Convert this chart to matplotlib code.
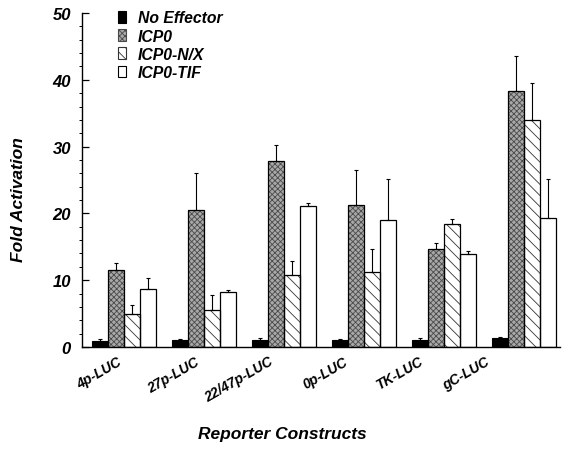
import numpy as np
import matplotlib
matplotlib.use("Agg")
import matplotlib.pyplot as plt
from matplotlib.transforms import ScaledTranslation
from matplotlib.patches import Patch

constructs = ["4p-LUC", "27p-LUC", "22/47p-LUC", "0p-LUC", "TK-LUC", "gC-LUC"]
series = ["No Effector", "ICP0", "ICP0-N/X", "ICP0-TIF"]
no_effector = [0.9, 1.0, 1.1, 1.0, 1.1, 1.3]
no_effector_err = [0.3, 0.2, 0.2, 0.2, 0.2, 0.2]
icp0 = [11.6, 20.5, 27.8, 21.3, 14.7, 38.3]
icp0_err = [1.0, 5.5, 2.4, 5.2, 0.9, 5.3]
icp0_nx = [5.0, 5.6, 10.8, 11.2, 18.4, 34.0]
icp0_nx_err = [1.3, 2.2, 2.0, 3.5, 0.8, 5.5]
icp0_tif = [8.7, 8.3, 21.1, 19.0, 13.9, 19.3]
icp0_tif_err = [1.7, 0.2, 0.5, 6.1, 0.5, 5.8]

plt.rcParams['font.family'] = ['Liberation Sans', 'DejaVu Sans']
plt.rcParams['hatch.linewidth'] = 0.6

fig = plt.figure(figsize=(5.63, 4.52), dpi=100)
ax = fig.add_axes([82/563, 104/452, 478/563, 334/452])

x = np.arange(len(constructs))
w = 0.2
vals = [no_effector, icp0, icp0_nx, icp0_tif]
errs = [no_effector_err, icp0_err, icp0_nx_err, icp0_tif_err]
for i, (v, e) in enumerate(zip(vals, errs)):
    pos = x - 1.5 * w + i * w
    if i == 0:
        ax.bar(pos, v, w, color='black', edgecolor='black', linewidth=0.8, zorder=2)
    elif i == 1:
        ax.bar(pos, v, w, color='#a8a8a8', edgecolor='#4a4a4a', linewidth=0, hatch='xxxxxx', zorder=2)
        ax.bar(pos, v, w, facecolor='none', edgecolor='black', linewidth=0.9, zorder=3)
    elif i == 2:
        ax.bar(pos, v, w, color='white', edgecolor='#333333', linewidth=0, hatch='\\\\\\', zorder=2)
        ax.bar(pos, v, w, facecolor='none', edgecolor='black', linewidth=0.9, zorder=3)
    else:
        ax.bar(pos, v, w, color='white', edgecolor='black', linewidth=0.9, zorder=2)
    ax.errorbar(pos, v, yerr=[np.zeros(len(v)), e], fmt='none', ecolor='black',
                elinewidth=0.8, capsize=1.5, capthick=0.8, zorder=4)

lh = [Patch(facecolor='black', edgecolor='black', linewidth=0.8),
      Patch(facecolor='#a8a8a8', edgecolor='#4a4a4a', hatch='xxxxxx', linewidth=0.8),
      Patch(facecolor='white', edgecolor='#333333', hatch='\\\\\\', linewidth=0.8),
      Patch(facecolor='white', edgecolor='black', linewidth=0.8)]
ax.legend(lh, series, loc='upper left', bbox_to_anchor=(0.045, 1.05), frameon=False,
          prop={'family': 'Liberation Sans', 'weight': 'bold', 'style': 'italic', 'size': 11.3},
          handlelength=0.55, handleheight=0.75, handletextpad=0.75, labelspacing=0.2)

ax.set_ylim(0, 50)
ax.set_xlim(-0.525, 5.45)
ax.set_yticks([0, 10, 20, 30, 40, 50])
ax.set_yticks(np.arange(0, 50, 2), minor=True)
ax.tick_params(axis='y', which='major', direction='in', length=5, width=0.9, pad=8)
ax.tick_params(axis='y', which='minor', direction='out', length=2, width=0.7)
for t in ax.get_yticklabels():
    t.set_fontweight('bold'); t.set_fontstyle('italic'); t.set_fontsize(12)

ax.set_xticks(x)
ax.set_xticklabels(constructs, rotation=30, ha='right', va='top', rotation_mode='anchor',
                   fontsize=10, fontweight='bold', fontstyle='italic')
ax.tick_params(axis='x', length=0, pad=5)
offsets_px = [-7, -9, -16, -21, -26, -39]
for t, dx in zip(ax.get_xticklabels(), offsets_px):
    t.set_transform(t.get_transform() + ScaledTranslation(dx / 100, 0, fig.dpi_scale_trans))

for s in ['top', 'right']:
    ax.spines[s].set_visible(False)
ax.spines['left'].set_linewidth(1.0)
ax.spines['bottom'].set_linewidth(1.0)

fig.text(19/563, 1 - 200/452, 'Fold Activation', rotation=90, ha='center', va='center',
         fontsize=12.5, fontweight='bold', fontstyle='italic')
fig.text(282/563, 1 - 435/452, 'Reporter Constructs', ha='center', va='center',
         fontsize=12.5, fontweight='bold', fontstyle='italic')

fig.savefig('out.png', dpi=100)
